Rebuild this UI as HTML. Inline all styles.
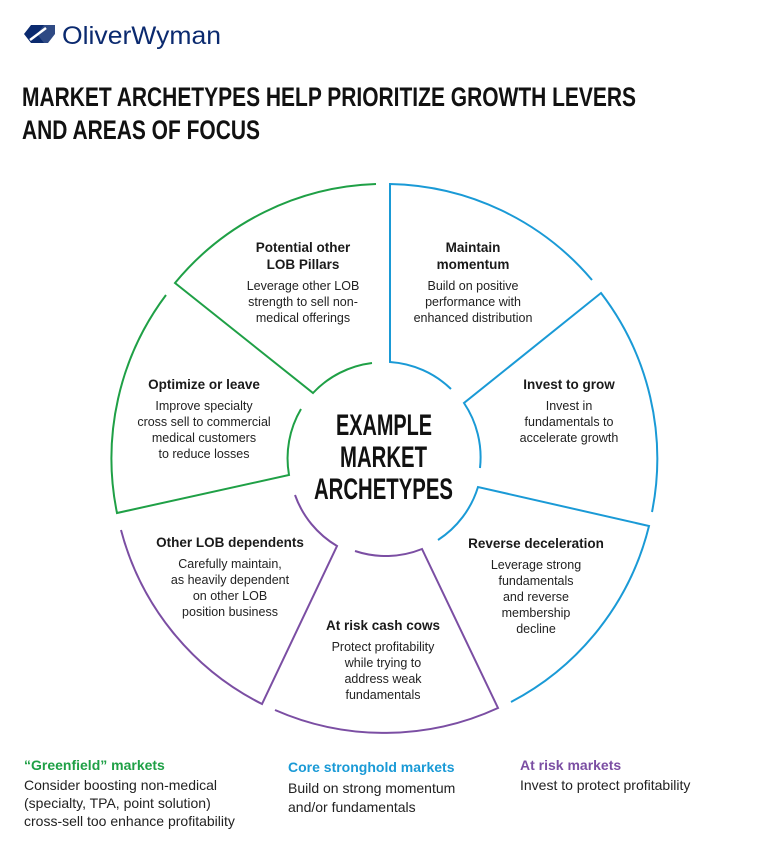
<!DOCTYPE html>
<html><head><meta charset="utf-8"><style>
html,body{margin:0;padding:0;background:#fff;}
svg{display:block;}
.h{font-family:"Liberation Sans",sans-serif;font-weight:bold;font-size:13.5px;fill:#1a1a1a;text-anchor:middle;}
.b{font-family:"Liberation Sans",sans-serif;font-size:12.5px;fill:#222;text-anchor:middle;}
.c{font-family:"Liberation Sans Narrow","Liberation Sans",sans-serif;font-weight:bold;font-size:30px;fill:#111;}
.t{font-family:"Liberation Sans Narrow","Liberation Sans",sans-serif;font-weight:bold;font-size:27px;fill:#111;}
.lh{font-family:"Liberation Sans",sans-serif;font-weight:bold;font-size:14px;}
.lb{font-family:"Liberation Sans",sans-serif;font-size:14px;fill:#222;}
</style></head><body>
<svg width="766" height="857" viewBox="0 0 766 857" xmlns="http://www.w3.org/2000/svg">
<g fill="#0b2a6f">
<path d="M24,34 L31,25 L44,25 L37,34 L44,43 L31,43 Z"/>
<path d="M36,34 L43,25 L55,25 L55,34 L48,43 L36,43 Z" opacity="0.85"/>
<path d="M30,40 L46,28" stroke="#fff" stroke-width="2.5"/>
</g>
<text x="62" y="44" font-family="Liberation Sans,sans-serif" font-size="25" fill="#0b2a6f" textLength="159" lengthAdjust="spacingAndGlyphs">OliverWyman</text>
<text class="t" x="22" y="106" textLength="614" lengthAdjust="spacingAndGlyphs">MARKET ARCHETYPES HELP PRIORITIZE GROWTH LEVERS</text>
<text class="t" x="22" y="139" textLength="238" lengthAdjust="spacingAndGlyphs">AND AREAS OF FOCUS</text>
<g fill="none" stroke-width="2">
<path stroke="#1fa046" d="M376,184 A272,272 0 0 0 175,283 L313,393 A97,97 0 0 1 372,363"/>
<path stroke="#1a9ad6" d="M592,280 A272,272 0 0 0 390,184 L390,362 A97,97 0 0 1 451,389"/>
<path stroke="#1a9ad6" d="M652,512 A272,272 0 0 0 601,293 L464,403 A97,97 0 0 1 480,468"/>
<path stroke="#1a9ad6" d="M438,540 A97,97 0 0 0 478,487 L649,526 A272,272 0 0 1 511,702"/>
<path stroke="#7b4ea3" d="M355,551 A97,97 0 0 0 422,549 L498,708 A272,272 0 0 1 275,710"/>
<path stroke="#7b4ea3" d="M121,530 A272,272 0 0 0 262,704 L337,546 A97,97 0 0 1 295,495"/>
<path stroke="#1fa046" d="M166,295 A272,272 0 0 0 117,513 L289,475 A97,97 0 0 1 301,409"/>
</g>
<text class="c" x="336" y="435" textLength="96" lengthAdjust="spacingAndGlyphs">EXAMPLE</text>
<text class="c" x="340" y="467" textLength="87" lengthAdjust="spacingAndGlyphs">MARKET</text>
<text class="c" x="314" y="499" textLength="139" lengthAdjust="spacingAndGlyphs">ARCHETYPES</text>
<text class="h" x="303" y="252">Potential other</text>
<text class="h" x="303" y="269">LOB Pillars</text>
<text class="b" x="303" y="290">Leverage other LOB</text>
<text class="b" x="303" y="306">strength to sell non-</text>
<text class="b" x="303" y="322">medical offerings</text>
<text class="h" x="473" y="252">Maintain</text>
<text class="h" x="473" y="269">momentum</text>
<text class="b" x="473" y="290">Build on positive</text>
<text class="b" x="473" y="306">performance with</text>
<text class="b" x="473" y="322">enhanced distribution</text>
<text class="h" x="204" y="389">Optimize or leave</text>
<text class="b" x="204" y="410">Improve specialty</text>
<text class="b" x="204" y="426">cross sell to commercial</text>
<text class="b" x="204" y="442">medical customers</text>
<text class="b" x="204" y="458">to reduce losses</text>
<text class="h" x="569" y="389">Invest to grow</text>
<text class="b" x="569" y="410">Invest in</text>
<text class="b" x="569" y="426">fundamentals to</text>
<text class="b" x="569" y="442">accelerate growth</text>
<text class="h" x="230" y="547">Other LOB dependents</text>
<text class="b" x="230" y="568">Carefully maintain,</text>
<text class="b" x="230" y="584">as heavily dependent</text>
<text class="b" x="230" y="600">on other LOB</text>
<text class="b" x="230" y="616">position business</text>
<text class="h" x="536" y="548">Reverse deceleration</text>
<text class="b" x="536" y="569">Leverage strong</text>
<text class="b" x="536" y="585">fundamentals</text>
<text class="b" x="536" y="601">and reverse</text>
<text class="b" x="536" y="617">membership</text>
<text class="b" x="536" y="633">decline</text>
<text class="h" x="383" y="630">At risk cash cows</text>
<text class="b" x="383" y="651">Protect profitability</text>
<text class="b" x="383" y="667">while trying to</text>
<text class="b" x="383" y="683">address weak</text>
<text class="b" x="383" y="699">fundamentals</text>
<text class="lh" x="24" y="770" fill="#1fa046">“Greenfield” markets</text>
<text class="lb" x="24" y="790">Consider boosting non-medical</text>
<text class="lb" x="24" y="808">(specialty, TPA, point solution)</text>
<text class="lb" x="24" y="826">cross-sell too enhance profitability</text>
<text class="lh" x="288" y="772" fill="#1a9ad6">Core stronghold markets</text>
<text class="lb" x="288" y="793">Build on strong momentum</text>
<text class="lb" x="288" y="812">and/or fundamentals</text>
<text class="lh" x="520" y="770" fill="#7b4ea3">At risk markets</text>
<text class="lb" x="520" y="790">Invest to protect profitability</text>
</svg>
</body></html>
